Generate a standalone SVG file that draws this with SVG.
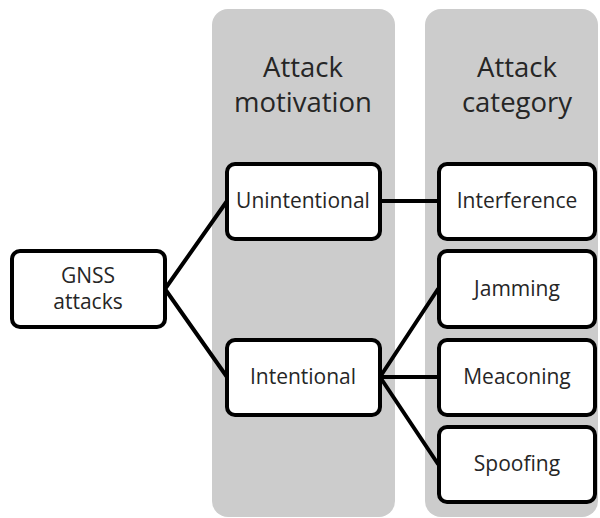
<svg xmlns="http://www.w3.org/2000/svg" width="600" height="518" viewBox="0 0 600 518">
<style>
.col{fill:#cccccc;}
.box{fill:#ffffff;stroke:#000000;stroke-width:4;}
.t{font-family:"Open Sans","Liberation Sans",sans-serif;font-size:21px;fill:#262626;text-anchor:middle;}
.h{font-family:"Open Sans","Liberation Sans",sans-serif;font-size:27.5px;fill:#262626;text-anchor:middle;}
.c{stroke:#000000;stroke-width:4;fill:none;stroke-linecap:round;}
</style>
<rect width="600" height="518" fill="#ffffff"/>
<g id="col-motivation">
<rect class="col" x="212" y="9" width="183" height="508" rx="16"/>
<text class="h" x="303" y="77">Attack</text>
<text class="h" x="303" y="112">motivation</text>
</g>
<g id="col-category">
<rect class="col" x="425" y="9" width="173" height="508" rx="16"/>
<text class="h" x="517" y="77">Attack</text>
<text class="h" x="517" y="112">category</text>
</g>
<g id="connectors">
<line class="c" x1="165" y1="289" x2="227" y2="201"/>
<line class="c" x1="165" y1="289" x2="227" y2="377"/>
<line class="c" x1="380" y1="201" x2="438" y2="201"/>
<line class="c" x1="380" y1="377" x2="438" y2="289"/>
<line class="c" x1="380" y1="377" x2="438" y2="377"/>
<line class="c" x1="380" y1="377" x2="438" y2="464"/>
</g>
<g id="gnss">
<rect class="box" x="12" y="251" width="153" height="76" rx="8"/>
<text class="t" x="88" y="283">GNSS</text>
<text class="t" x="88" y="309">attacks</text>
</g>
<g id="unintentional">
<rect class="box" x="227" y="164" width="153" height="75" rx="8"/>
<text class="t" x="303" y="208">Unintentional</text>
</g>
<g id="intentional">
<rect class="box" x="227" y="340" width="153" height="75" rx="8"/>
<text class="t" x="303" y="384">Intentional</text>
</g>
<g id="interference">
<rect class="box" x="439" y="164" width="156" height="75" rx="8"/>
<text class="t" x="517" y="208">Interference</text>
</g>
<g id="jamming">
<rect class="box" x="439" y="251" width="156" height="76" rx="8"/>
<text class="t" x="517" y="296">Jamming</text>
</g>
<g id="meaconing">
<rect class="box" x="439" y="340" width="156" height="75" rx="8"/>
<text class="t" x="517" y="384">Meaconing</text>
</g>
<g id="spoofing">
<rect class="box" x="439" y="427" width="156" height="75" rx="8"/>
<text class="t" x="517" y="471">Spoofing</text>
</g>
</svg>
